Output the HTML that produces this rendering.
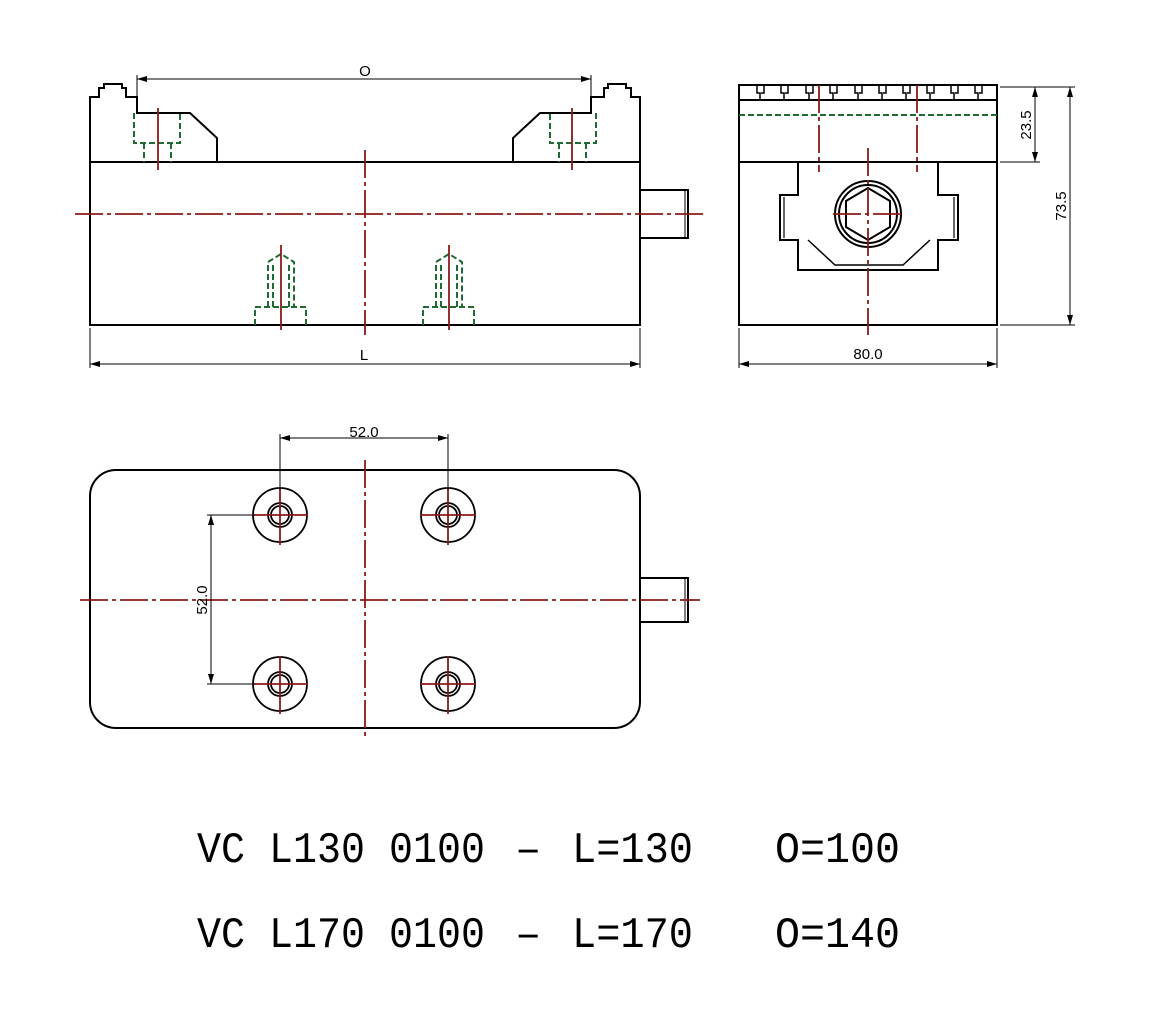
<!DOCTYPE html>
<html><head><meta charset="utf-8"><style>html,body{margin:0;padding:0;background:#fff}svg{display:block}</style></head>
<body>
<svg width="1173" height="1031" viewBox="0 0 1173 1031" xmlns="http://www.w3.org/2000/svg">
<defs>
<marker id="ar" viewBox="0 0 10 6" refX="10" refY="3" markerWidth="10" markerHeight="6" orient="auto-start-reverse" markerUnits="userSpaceOnUse"><path d="M0,0 L10,3 L0,6 z" fill="#000"/></marker>
</defs>
<g fill="none" stroke="#000" stroke-width="2">
<rect x="90" y="162" width="550" height="163"/>
<path d="M90,162 V97 H99 V88 H104 V84 H122 V88 H126 V97 H137 V113 H190 L217,138 V162"/>
<path d="M640,162 V97 H631 V88 H626 V84 H608 V88 H604 V97 H591 V113 H540 L513,138 V162"/>
<rect x="640" y="190" width="48" height="48"/>
<line x1="685" y1="190" x2="685" y2="238" stroke-width="1"/>
<rect x="739" y="85" width="258" height="77"/>
<line x1="739" y1="100" x2="997" y2="100"/>
<rect x="739" y="162" width="258" height="163"/>
<path d="M798,162 V195 H780 V240 H798 V270 H938 V240 H958 V195 H938 V162"/>
<path d="M808,240 L835,265 H903 L930,240" stroke-width="1.5"/>
<line x1="784" y1="197" x2="784" y2="238" stroke-width="1.2"/>
<line x1="954" y1="197" x2="954" y2="238" stroke-width="1.2"/>
<circle cx="868" cy="214" r="33"/>
<circle cx="868" cy="214" r="29"/>
<polygon points="868,188 890,201 890,227 868,240 846,227 846,201"/>
<rect x="90" y="470" width="550" height="258" rx="26"/>
<rect x="640" y="578" width="48" height="44"/>
<line x1="685" y1="578" x2="685" y2="622" stroke-width="1"/>
<g stroke-width="1.8">
<circle cx="280" cy="515" r="27"/><circle cx="280" cy="515" r="12"/><circle cx="280" cy="515" r="9"/>
<circle cx="448" cy="515" r="27"/><circle cx="448" cy="515" r="12"/><circle cx="448" cy="515" r="9"/>
<circle cx="280" cy="684" r="27"/><circle cx="280" cy="684" r="12"/><circle cx="280" cy="684" r="9"/>
<circle cx="448" cy="684" r="27"/><circle cx="448" cy="684" r="12"/><circle cx="448" cy="684" r="9"/>
</g>
</g>
<g fill="none" stroke="#000" stroke-width="1.5">
<path d="M757,86 v7 h3 v7 M764,86 v7 h-3"/><path d="M781,86 v7 h3 v7 M788,86 v7 h-3"/>
<path d="M806,86 v7 h3 v7 M813,86 v7 h-3"/><path d="M830,86 v7 h3 v7 M837,86 v7 h-3"/>
<path d="M855,86 v7 h3 v7 M862,86 v7 h-3"/><path d="M879,86 v7 h3 v7 M886,86 v7 h-3"/>
<path d="M903,86 v7 h3 v7 M910,86 v7 h-3"/><path d="M927,86 v7 h3 v7 M934,86 v7 h-3"/>
<path d="M951,86 v7 h3 v7 M958,86 v7 h-3"/><path d="M975,86 v7 h3 v7 M982,86 v7 h-3"/>
</g>
<g fill="none" stroke="#1f6b33" stroke-width="2" stroke-dasharray="6,3">
<path d="M134,113 V143 H180 V113"/><path d="M144,143 V162 M171,143 V162"/>
<path d="M596,113 V143 H550 V113"/><path d="M586,143 V162 M559,143 V162"/>
<line x1="739" y1="115" x2="997" y2="115"/>
<path d="M255,325 V307 H306 V325 M268,307 V262 L281,254 L294,262 V307 M273,307 V264 M289,307 V264"/>
<path d="M423,325 V307 H474 V325 M436,307 V262 L449,254 L462,262 V307 M441,307 V264 M457,307 V264"/>
</g>
<g fill="none" stroke="#8b1a1a" stroke-width="1.8" stroke-dasharray="28,4,4,4">
<line x1="75" y1="214" x2="705" y2="214"/>
<line x1="365" y1="150" x2="365" y2="335"/>
<line x1="158" y1="108" x2="158" y2="170" stroke-dasharray="none"/>
<line x1="572" y1="108" x2="572" y2="170" stroke-dasharray="none"/>
<line x1="281" y1="245" x2="281" y2="330" stroke-dasharray="none"/>
<line x1="449" y1="245" x2="449" y2="330" stroke-dasharray="none"/>
<line x1="819" y1="85" x2="819" y2="172"/>
<line x1="917" y1="85" x2="917" y2="172"/>
<line x1="868" y1="148" x2="868" y2="335"/>
<line x1="833" y1="214" x2="903" y2="214"/>
<line x1="80" y1="600" x2="700" y2="600"/>
<line x1="365" y1="460" x2="365" y2="740"/>
<g stroke-dasharray="none">
<line x1="252" y1="515" x2="308" y2="515"/><line x1="280" y1="487" x2="280" y2="545"/>
<line x1="420" y1="515" x2="476" y2="515"/><line x1="448" y1="487" x2="448" y2="545"/>
<line x1="252" y1="684" x2="308" y2="684"/><line x1="280" y1="656" x2="280" y2="714"/>
<line x1="420" y1="684" x2="476" y2="684"/><line x1="448" y1="656" x2="448" y2="714"/>
</g>
</g>
<g stroke="#000" stroke-width="1" fill="none">
<line x1="137" y1="75" x2="137" y2="100"/><line x1="591" y1="75" x2="591" y2="100"/>
<line x1="137" y1="79" x2="591" y2="79" marker-start="url(#ar)" marker-end="url(#ar)"/>
<line x1="90" y1="328" x2="90" y2="368"/><line x1="640" y1="328" x2="640" y2="368"/>
<line x1="90" y1="364" x2="640" y2="364" marker-start="url(#ar)" marker-end="url(#ar)"/>
<line x1="739" y1="328" x2="739" y2="368"/><line x1="997" y1="328" x2="997" y2="368"/>
<line x1="739" y1="364" x2="997" y2="364" marker-start="url(#ar)" marker-end="url(#ar)"/>
<line x1="1000" y1="87" x2="1075" y2="87"/><line x1="1000" y1="162" x2="1040" y2="162"/><line x1="1000" y1="325" x2="1075" y2="325"/>
<line x1="1035" y1="87" x2="1035" y2="162" marker-start="url(#ar)" marker-end="url(#ar)"/>
<line x1="1070" y1="87" x2="1070" y2="325" marker-start="url(#ar)" marker-end="url(#ar)"/>
<line x1="280" y1="434" x2="280" y2="490"/><line x1="448" y1="434" x2="448" y2="490"/>
<line x1="280" y1="438" x2="448" y2="438" marker-start="url(#ar)" marker-end="url(#ar)"/>
<line x1="207" y1="515" x2="255" y2="515"/><line x1="207" y1="684" x2="255" y2="684"/>
<line x1="211" y1="515" x2="211" y2="684" marker-start="url(#ar)" marker-end="url(#ar)"/>
</g>
<g font-family="Liberation Sans, sans-serif" font-size="15" fill="#000" text-anchor="middle">
<text x="365" y="76">O</text>
<text x="364" y="360">L</text>
<text x="868" y="359">80.0</text>
<text x="364" y="437">52.0</text>
<text transform="translate(1031,125) rotate(-90)">23.5</text>
<text transform="translate(1066,206) rotate(-90)">73.5</text>
<text transform="translate(207,600) rotate(-90)">52.0</text>
</g>
<g font-family="Liberation Mono, monospace" font-size="44" fill="#000">
<text x="197" y="862" textLength="288" lengthAdjust="spacingAndGlyphs">VC L130 0100</text>
<text x="515" y="862">–</text>
<text x="572" y="862" textLength="121" lengthAdjust="spacingAndGlyphs">L=130</text>
<text x="775" y="862" textLength="125" lengthAdjust="spacingAndGlyphs">O=100</text>
<text x="197" y="947" textLength="288" lengthAdjust="spacingAndGlyphs">VC L170 0100</text>
<text x="515" y="947">–</text>
<text x="572" y="947" textLength="121" lengthAdjust="spacingAndGlyphs">L=170</text>
<text x="775" y="947" textLength="125" lengthAdjust="spacingAndGlyphs">O=140</text>
</g>
</svg>
</body></html>
